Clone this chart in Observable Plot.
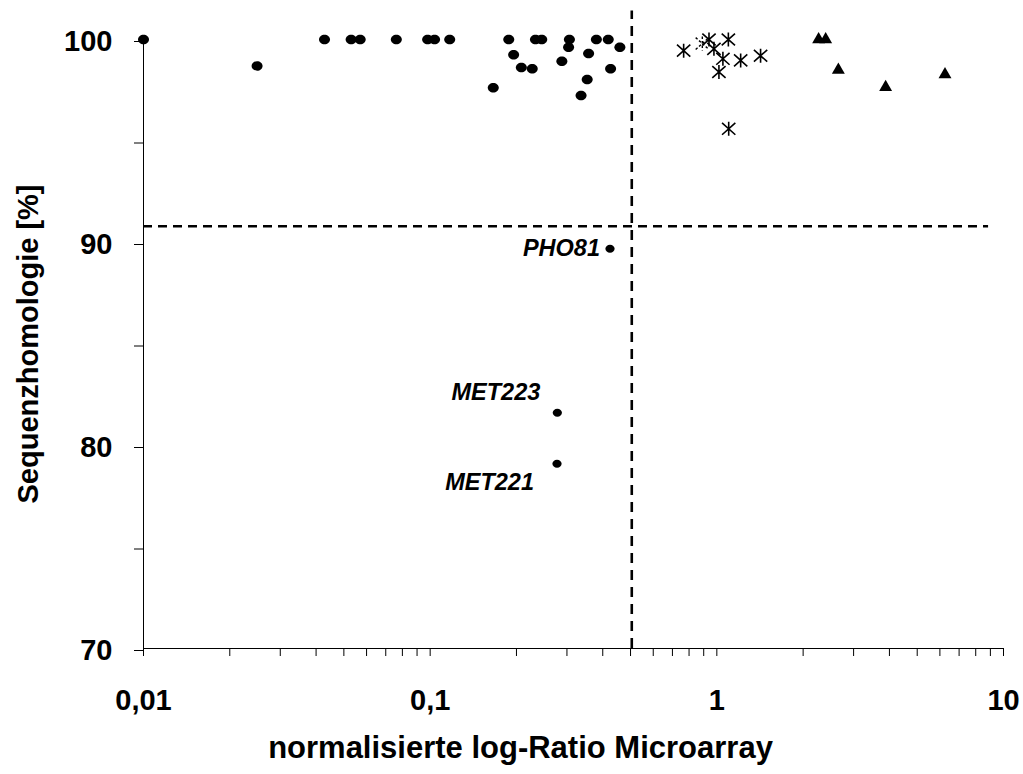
<!DOCTYPE html>
<html>
<head>
<meta charset="utf-8">
<script src="https://cdn.jsdelivr.net/npm/d3@7"></script>
<script src="https://cdn.jsdelivr.net/npm/@observablehq/plot@0.6"></script>
<style>
  html, body { margin: 0; padding: 0; background: #fff; overflow: hidden; }
</style>
</head>
<body>
<div id="chart"></div>
<script>
// ---- data ----
const circleX = [0.01, 0.0249, 0.0428, 0.053, 0.057, 0.0762, 0.098, 0.1036, 0.117, 0.188, 0.1955, 0.208, 0.227, 0.166, 0.233, 0.245, 0.306, 0.304, 0.288, 0.357, 0.380, 0.418, 0.459, 0.426, 0.353, 0.336];
const circleY = [100, 98.7, 100, 100, 100, 100, 100, 100, 100, 100, 99.25, 98.62, 98.56, 97.62, 100, 100, 100, 99.62, 98.93, 99.31, 100, 100, 99.62, 98.56, 98.03, 97.24];

const starX = [0.766, 0.939, 1.097, 0.977, 1.05, 1.211, 1.421, 1.017, 1.10];
const starY = [99.45, 100, 100, 99.54, 99.05, 98.97, 99.2, 98.4, 95.6];
const ghostStarX = [0.89];
const ghostStarY = [99.8];

const triX = [2.265, 2.397, 2.654, 3.88, 6.25];
const triY = [100, 100, 98.5, 97.65, 98.28];

const geneNames = ["PHO81", "MET223", "MET221"];
const geneX = [0.424, 0.2777, 0.277];
const geneY = [89.69, 81.61, 79.1];

const thresholdX = 0.505;
const thresholdY = 90.8;

const xTickLabels = {0.01: "0,01", 0.1: "0,1", 1: "1", 10: "10"};
const yTickLabels = [70, 80, 90, 100];
const yTicks = [70, 75, 80, 85, 90, 95, 100];
const xTitle = "normalisierte log-Ratio Microarray";
const yTitle = "Sequenzhomologie [%]";

// ---- build tables ----
const circles = circleX.map((x, i) => ({x, y: circleY[i]}));
const stars = starX.map((x, i) => ({x, y: starY[i]}));
const ghostStars = ghostStarX.map((x, i) => ({x, y: ghostStarY[i]}));
const tris = triX.map((x, i) => ({x, y: triY[i]}));
const genes = geneNames.map((name, i) => ({name, x: geneX[i], y: geneY[i]}));
const xTicks = [];
for (const d of [0.01, 0.1, 1]) for (let k = 1; k <= 9; k++) xTicks.push(+(d * k).toPrecision(3));
xTicks.push(10);

// elliptical marker (Excel-like filled oval)
const ellipse = {
  draw(ctx, size) {
    const r0 = Math.sqrt(size / Math.PI);
    const rx = r0 * 1.1, ry = r0 * 0.95, k = 0.5523;
    ctx.moveTo(rx, 0);
    ctx.bezierCurveTo(rx, ry * k, rx * k, ry, 0, ry);
    ctx.bezierCurveTo(-rx * k, ry, -rx, ry * k, -rx, 0);
    ctx.bezierCurveTo(-rx, -ry * k, -rx * k, -ry, 0, -ry);
    ctx.bezierCurveTo(rx * k, -ry, rx, -ry * k, rx, 0);
    ctx.closePath();
  }
};
// Excel-like asterisk: vertical bar plus an X
const excelStar = {
  draw(ctx, size) {
    const a = Math.sqrt(size / Math.PI);
    ctx.moveTo(0, -a); ctx.lineTo(0, a);
    ctx.moveTo(-a * 0.95, -a * 0.85); ctx.lineTo(a * 0.95, a * 0.85);
    ctx.moveTo(-a * 0.95, a * 0.85); ctx.lineTo(a * 0.95, -a * 0.85);
  }
};

const font = "'Liberation Sans', Arial, Helvetica, sans-serif";

const chart = Plot.plot({
  width: 1023,
  height: 774,
  marginLeft: 143,
  marginRight: 20,
  marginTop: 39,
  marginBottom: 126,
  style: {fontFamily: font, background: "#fff", color: "#000"},
  x: {type: "log", domain: [0.01, 10], axis: null},
  y: {domain: [70, 100], axis: null},
  marks: [
    // threshold dashed lines
    Plot.ruleX([thresholdX], {y1: 70, y2: 101.4, stroke: "#000", strokeWidth: 2.6, strokeDasharray: "10,7"}),
    Plot.ruleY([thresholdY], {x1: 0.01, x2: 8.87, stroke: "#000", strokeWidth: 2.6, strokeDasharray: "9,6"}),
    // axis lines
    Plot.ruleX([0.01], {y1: 70, y2: 100, stroke: "#000", strokeWidth: 1}),
    Plot.ruleY([70], {x1: 0.01, x2: 10, stroke: "#000", strokeWidth: 1}),
    Plot.axisY({
      ticks: yTicks, tickSize: 9, tickPadding: 22,
      tickFormat: d => yTickLabels.includes(d) ? String(d) : "",
      fontSize: 29, fontWeight: "bold", fontFamily: font, label: null, dy: 2
    }),
    Plot.axisX({
      ticks: xTicks, tickSize: 8, tickPadding: 33,
      tickFormat: d => xTickLabels[d] ?? "",
      fontSize: 29, fontWeight: "bold", fontFamily: font, label: null
    }),
    // axis titles
    Plot.text([xTitle], {frameAnchor: "bottom", textAnchor: "middle", dx: -53, dy: 109, fontSize: 31, fontWeight: "bold", fontFamily: font, fill: "#000"}),
    Plot.text([yTitle], {frameAnchor: "left", textAnchor: "middle", dx: -115, rotate: -90, fontSize: 29, fontWeight: "bold", fontFamily: font, fill: "#000"}),
    // markers
    Plot.dot(circles, {x: "x", y: "y", r: 5, symbol: ellipse, fill: "#000", stroke: "none"}),
    Plot.dot(genes, {x: "x", y: "y", r: 4.2, symbol: ellipse, fill: "#000", stroke: "none"}),
    Plot.dot(ghostStars, {x: "x", y: "y", r: 7, symbol: excelStar, stroke: "#000", strokeWidth: 1.4, strokeDasharray: "2.5,2"}),
    Plot.dot(stars, {x: "x", y: "y", r: 7, symbol: excelStar, stroke: "#000", strokeWidth: 1.6}),
    Plot.dot(tris, {x: "x", y: "y", r: 4.8, symbol: "triangle", fill: "#000", stroke: "none"}),
    // gene labels
    Plot.text(genes.filter(d => d.name === "PHO81"), {x: "x", y: "y", text: "name", textAnchor: "end", dx: -10, dy: 0, fontSize: 23.5, fontWeight: "bold", fontStyle: "italic", fontFamily: font, fill: "#000"}),
    Plot.text(genes.filter(d => d.name === "MET223"), {x: "x", y: "y", text: "name", textAnchor: "end", dx: -17, dy: -20, fontSize: 23.5, fontWeight: "bold", fontStyle: "italic", fontFamily: font, fill: "#000"}),
    Plot.text(genes.filter(d => d.name === "MET221"), {x: "x", y: "y", text: "name", textAnchor: "end", dx: -23, dy: 19, fontSize: 23.5, fontWeight: "bold", fontStyle: "italic", fontFamily: font, fill: "#000"})
  ]
});
document.getElementById("chart").appendChild(chart);
</script>
</body>
</html>
